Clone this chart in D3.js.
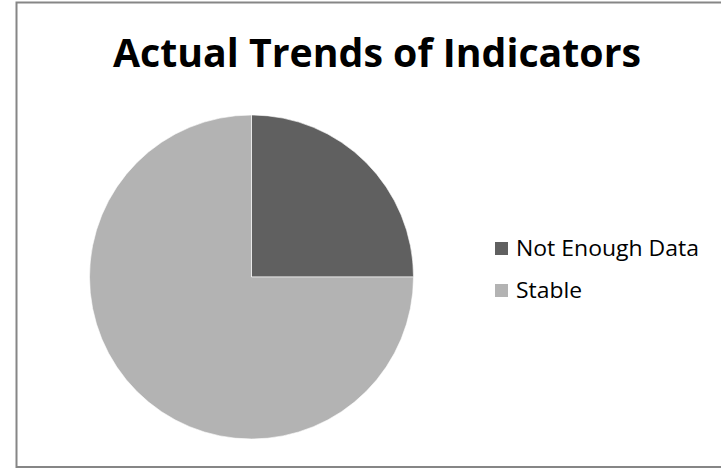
<!DOCTYPE html>
<html>
<head>
<meta charset="utf-8">
<script src="https://cdn.jsdelivr.net/npm/d3@7"></script>
<style>
  body { margin: 0; background: #fff; }
  svg { display: block; }
</style>
</head>
<body>
<svg id="chart" width="721" height="470"></svg>
<script>
// data
const categories = ["Not Enough Data", "Stable"]
const values = [1, 3]
const colors = ["#606060", "#b3b3b3"]
const title = "Actual Trends of Indicators"

const svg = d3.select("#chart")
const font = "'Open Sans', 'Liberation Sans', sans-serif"

// outer frame
svg.append("rect")
  .attr("x", 16.5).attr("y", 2.5)
  .attr("width", 710).attr("height", 464.5)
  .attr("fill", "#fff")
  .attr("stroke", "#868686")
  .attr("stroke-width", 2)

// title (narrow face in the original, so squeeze a bit)
svg.append("text")
  .attr("x", 113).attr("y", 67)
  .style("font-family", font)
  .style("font-weight", "bold")
  .style("font-size", "39px")
  .attr("textLength", 528)
  .attr("lengthAdjust", "spacingAndGlyphs")
  .attr("fill", "#000")
  .text(title)

// pie
const cx = 251.5, cy = 277, r = 162
const pie = d3.pie().sort(null).value(d => d)
const arc = d3.arc().innerRadius(0).outerRadius(r)

const g = svg.append("g").attr("transform", "translate(" + cx + "," + cy + ")")
g.selectAll("path")
  .data(pie(values))
  .join("path")
  .attr("d", arc)
  .attr("fill", (d, i) => colors[i])
  .attr("stroke", "#fff")
  .attr("stroke-width", 0.6)

// legend
const legend = svg.append("g")
const widths = [183, 66]
categories.forEach((c, i) => {
  let base = 256 + i * 42
  legend.append("rect")
    .attr("x", 495).attr("y", base - 14)
    .attr("width", 13).attr("height", 13)
    .attr("fill", colors[i])
  legend.append("text")
    .attr("x", 516).attr("y", base)
    .style("font-family", font)
    .style("font-size", "21px")
    .attr("textLength", widths[i])
    .attr("lengthAdjust", "spacingAndGlyphs")
    .attr("fill", "#000")
    .text(c)
})
</script>
</body>
</html>
